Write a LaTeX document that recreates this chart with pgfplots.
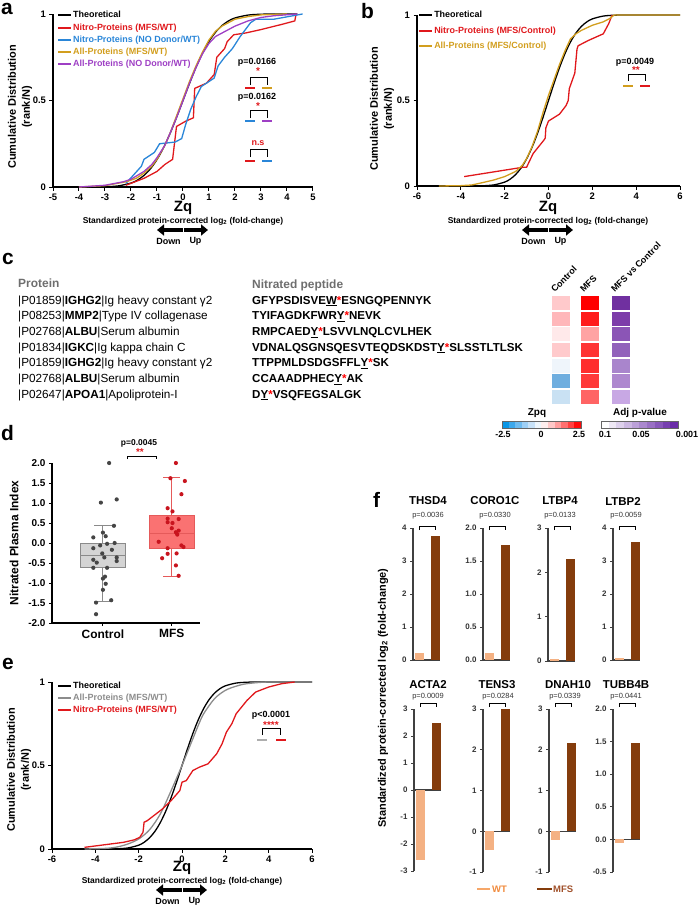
\documentclass[border=0pt]{standalone}
\usepackage{fontspec}
\setmainfont{Liberation Sans}
\usepackage{pgfplots}
\pgfplotsset{compat=1.18}
\usepgfplotslibrary{statistics}
\usetikzlibrary{arrows.meta}
\newcommand{\fs}[1]{\fontsize{#1}{#1}\selectfont}
\newcommand{\fss}[2]{\fontsize{#1}{#2}\selectfont}
\newcommand{\rs}{\textcolor{red}{*}}
\definecolor{cRed}{HTML}{E0181C}
\definecolor{cBlue}{HTML}{2A86D8}
\definecolor{cGold}{HTML}{D29E1E}
\definecolor{cPurple}{HTML}{9E3FC4}
\definecolor{cGray}{HTML}{8C8C8C}
\definecolor{boxG}{HTML}{D4D4D4}
\definecolor{boxGd}{HTML}{8A8A8A}
\definecolor{ptG}{HTML}{454545}
\definecolor{boxR}{HTML}{FA7272}
\definecolor{boxRd}{HTML}{E55A5A}
\definecolor{ptR}{HTML}{C8141E}
\definecolor{wtC}{HTML}{F4B183}
\definecolor{mfsC}{HTML}{843C0C}
\definecolor{wtT}{HTML}{F08A3C}
\definecolor{mfsT}{HTML}{A0502A}
\definecolor{hdr}{HTML}{6E6E6E}
% heatmap colours
\definecolor{hC1}{HTML}{FFC9CB}\definecolor{hC2}{HTML}{FFB7BA}\definecolor{hC3}{HTML}{FFE9EA}
\definecolor{hC4}{HTML}{FFCACC}\definecolor{hC5}{HTML}{EFF5FB}\definecolor{hC6}{HTML}{6FAEDF}
\definecolor{hC7}{HTML}{C9E1F3}
\definecolor{hM1}{HTML}{FF0000}\definecolor{hM2}{HTML}{FF1C1C}\definecolor{hM3}{HTML}{FFA3A3}
\definecolor{hM4}{HTML}{FF3333}\definecolor{hM5}{HTML}{FF2E2E}\definecolor{hM6}{HTML}{FF3A3A}
\definecolor{hM7}{HTML}{FF6464}
\definecolor{hP1}{HTML}{7030A0}\definecolor{hP2}{HTML}{7D3DAA}\definecolor{hP3}{HTML}{8B55B6}
\definecolor{hP4}{HTML}{9262BB}\definecolor{hP5}{HTML}{A985CC}\definecolor{hP6}{HTML}{AE88CF}
\definecolor{hP7}{HTML}{C8A8E4}
\definecolor{z1}{HTML}{0A96E6}\definecolor{z2}{HTML}{3CA8EC}\definecolor{z3}{HTML}{6EBBF0}
\definecolor{z4}{HTML}{9ECFF5}\definecolor{z5}{HTML}{C8E2F8}\definecolor{z6}{HTML}{EEF6FC}
\definecolor{z7}{HTML}{FFEEEE}\definecolor{z8}{HTML}{FFC8C8}\definecolor{z9}{HTML}{FF9E9E}
\definecolor{z10}{HTML}{FF7070}\definecolor{z11}{HTML}{FF4040}\definecolor{z12}{HTML}{FF0A0A}
\definecolor{p1}{HTML}{FFFFFF}\definecolor{p2}{HTML}{EEE8F5}\definecolor{p3}{HTML}{DDD0EC}
\definecolor{p4}{HTML}{CCB8E2}\definecolor{p5}{HTML}{BBA0D8}\definecolor{p6}{HTML}{AA88CE}
\definecolor{p7}{HTML}{9970C4}\definecolor{p8}{HTML}{8858BA}\definecolor{p9}{HTML}{7740B0}
\definecolor{p10}{HTML}{6A2CA8}
\pgfdeclareplotmark{hmcell}{\pgfpathrectangle{\pgfqpoint{-9bp}{-7bp}}{\pgfqpoint{18bp}{14bp}}\pgfusepathqfill}
\pgfdeclareplotmark{cbz}{\pgfpathrectangle{\pgfqpoint{-3.35bp}{-3.5bp}}{\pgfqpoint{6.7bp}{7bp}}\pgfusepathqfill}
\pgfdeclareplotmark{cbp}{\pgfpathrectangle{\pgfqpoint{-3.9bp}{-3.5bp}}{\pgfqpoint{7.8bp}{7bp}}\pgfusepathqfill}
\pgfdeclareplotmark{dot}{\pgfpathcircle{\pgfqpoint{0bp}{0bp}}{2.1bp}\pgfusepathqfill}
\tikzset{plet/.style={anchor=base west, inner sep=0, font=\fs{21}\bfseries, text height=11bp, text depth=0bp}}
\pgfplotsset{
 cdf/.style={scale only axis, anchor=south west, axis lines=left,
  axis line style={-, line width=1.3bp}, every tick/.style={black, line width=1bp},
  tick align=outside, major tick length=3.5bp, enlargelimits=false,
  ymin=0, ymax=1, ytick={0,0.5,1}, yticklabels={0,0.5,1},
  tick label style={font=\fs{9.5}\bfseries}, no markers, clip=false,
  legend style={draw=none, fill=none, font=\fs{9}\bfseries, inner sep=0pt, row sep=1.3bp,
   nodes={inner sep=1bp, text height=7bp, text depth=2bp}},
  legend cell align=left,
  legend image code/.code={\draw[##1, line width=2bp] (0bp,0bp) -- (13bp,0bp);},
  every axis plot/.append style={line width=1.3bp}},
 fb/.style={scale only axis, anchor=south west, width=27bp, xmin=0.6, xmax=2.3,
  axis y line=left, axis x line=middle, axis line style={-, line width=1.1bp, color=black!75},
  xtick=\empty, enlargelimits=false, tick align=outside,
  every tick/.style={black!75, line width=0.9bp}, major tick length=3bp,
  y tick label style={font=\fs{8}\bfseries, text=black!80},
  hide obscured x ticks=false, hide obscured y ticks=false, clip=false},
}
\begin{document}
\begin{tikzpicture}
\useasboundingbox (0bp,0bp) rectangle (700bp,-910bp);
% ---------------- panel a ----------------
\begin{axis}[cdf, at={(53bp,-187bp)}, width=260bp, height=173bp, xmin=-5, xmax=5,
 xtick={-5,-4,-3,-2,-1,0,1,2,3,4,5}, xticklabels={-5,-4,-3,-2,-1,0,1,2,3,4,5},
 legend style={at={(0.015,1.026)}, anchor=north west}]
\addplot[black, smooth] coordinates {(-3,0.0013)(-2.5,0.0062)(-2,0.0228)(-1.75,0.0401)(-1.5,0.0668)(-1.25,0.1056)(-1,0.1587)(-0.75,0.2266)(-0.5,0.3085)(-0.25,0.4013)(0,0.5)(0.25,0.5987)(0.5,0.6915)(0.75,0.7734)(1,0.8413)(1.25,0.8944)(1.5,0.9332)(1.75,0.9599)(2,0.9772)(2.5,0.9938)(3,0.9987)(3.5,1)(4.4,1)};
\addlegendentry{Theoretical}
\addplot[cRed] coordinates {(-2.2,0.01)(-1.5,0.05)(-1.0,0.09)(-0.7,0.13)(-0.4,0.16)(-0.25,0.35)(0.1,0.38)(0.4,0.40)(0.45,0.57)(0.9,0.60)(1.2,0.65)(1.3,0.75)(1.6,0.80)(1.7,0.84)(1.95,0.88)(2.4,0.89)(3.0,0.91)(3.8,0.94)(4.3,0.96)(4.35,1.0)};
\addlegendentry{\textcolor{cRed}{Nitro-Proteins (MFS/WT)}}
\addplot[cBlue] coordinates {(-2.2,0.02)(-1.9,0.07)(-1.6,0.12)(-1.5,0.16)(-1.1,0.20)(-0.9,0.25)(-0.3,0.26)(-0.05,0.28)(0.1,0.36)(0.3,0.45)(0.5,0.52)(0.7,0.58)(1.2,0.63)(1.35,0.70)(1.6,0.75)(1.9,0.80)(2.2,0.87)(2.6,0.95)(2.8,0.97)(3.5,0.97)(4.6,1.0)};
\addlegendentry{\textcolor{cBlue}{Nitro-Proteins (NO Donor/WT)}}
\addplot[cGold] coordinates {(-4,0)(-3,0.008)(-2.2,0.03)(-1.8,0.05)(-1.5,0.08)(-1.2,0.12)(-1,0.16)(-0.7,0.24)(-0.5,0.31)(-0.25,0.41)(0,0.51)(0.25,0.61)(0.5,0.70)(0.75,0.78)(1,0.85)(1.25,0.90)(1.5,0.93)(2,0.97)(2.5,0.985)(3,0.995)(4,1)};
\addlegendentry{\textcolor{cGold}{All-Proteins (MFS/WT)}}
\addplot[cPurple] coordinates {(-4,0)(-3,0.01)(-2.3,0.03)(-2,0.045)(-1.5,0.09)(-1.2,0.13)(-1,0.17)(-0.7,0.24)(-0.5,0.31)(-0.25,0.40)(0,0.50)(0.25,0.60)(0.5,0.69)(0.75,0.77)(1,0.83)(1.25,0.87)(1.5,0.89)(2,0.93)(2.5,0.96)(3,0.98)(3.5,0.99)(4.4,1)};
\addlegendentry{\textcolor{cPurple}{All-Proteins (NO Donor/WT)}}
\end{axis}
% ---------------- panel b ----------------
\begin{axis}[cdf, at={(417bp,-186bp)}, width=263bp, height=171bp, xmin=-6, xmax=6,
 xtick={-6,-4,-2,0,2,4,6}, xticklabels={-6,-4,-2,0,2,4,6},
 legend style={at={(0.004,1.032)}, anchor=north west, row sep=4.3bp}]
\addplot[black, smooth] coordinates {(-3,0.0013)(-2.5,0.0062)(-2,0.0228)(-1.75,0.0401)(-1.5,0.0668)(-1.25,0.1056)(-1,0.1587)(-0.75,0.2266)(-0.5,0.3085)(-0.25,0.4013)(0,0.5)(0.25,0.5987)(0.5,0.6915)(0.75,0.7734)(1,0.8413)(1.25,0.8944)(1.5,0.9332)(1.75,0.9599)(2,0.9772)(2.5,0.9938)(3,0.9987)(3.5,1)(6,1)};
\addlegendentry{Theoretical}
\addplot[cRed] coordinates {(-3.85,0.055)(-1.15,0.11)(-1.0,0.11)(-0.7,0.19)(-0.2,0.27)(-0.15,0.28)(-0.12,0.34)(0,0.38)(0.5,0.42)(0.8,0.47)(0.9,0.50)(0.95,0.57)(1.2,0.66)(1.3,0.80)(1.35,0.82)(1.8,0.85)(2.5,0.89)(2.75,0.95)(2.9,1.0)};
\addlegendentry{\textcolor{cRed}{Nitro-Proteins (MFS/Control)}}
\addplot[cGold] coordinates {(-5,0)(-4,0.002)(-3.5,0.006)(-3,0.02)(-2.5,0.035)(-2,0.055)(-1.5,0.085)(-1.2,0.12)(-1,0.16)(-0.75,0.23)(-0.5,0.32)(-0.25,0.43)(0,0.53)(0.25,0.62)(0.5,0.71)(0.75,0.79)(1,0.86)(1.25,0.89)(1.5,0.91)(2,0.94)(2.5,0.96)(2.8,0.98)(3,1)(6,1)};
\addlegendentry{\textcolor{cGold}{All-Proteins (MFS/Control)}}
\end{axis}
% ---------------- panel e ----------------
\begin{axis}[cdf, at={(52bp,-849bp)}, width=260bp, height=167bp, xmin=-6, xmax=6,
 xtick={-6,-4,-2,0,2,4,6}, xticklabels={-6,-4,-2,0,2,4,6},
 legend style={at={(0.019,1.012)}, anchor=north west, row sep=1bp}]
\addplot[black, smooth] coordinates {(-3,0.0013)(-2.5,0.0062)(-2,0.0228)(-1.75,0.0401)(-1.5,0.0668)(-1.25,0.1056)(-1,0.1587)(-0.75,0.2266)(-0.5,0.3085)(-0.25,0.4013)(0,0.5)(0.25,0.5987)(0.5,0.6915)(0.75,0.7734)(1,0.8413)(1.25,0.8944)(1.5,0.9332)(1.75,0.9599)(2,0.9772)(2.5,0.9938)(3,0.9987)(3.5,1)(6,1)};
\addlegendentry{Theoretical}
\addplot[cGray, smooth] coordinates {(-4.5,0)(-3.5,0.004)(-3,0.012)(-2.5,0.03)(-2,0.06)(-1.5,0.115)(-1,0.21)(-0.5,0.35)(0,0.5)(0.25,0.58)(0.5,0.66)(0.75,0.74)(1,0.81)(1.5,0.9)(2,0.95)(2.5,0.975)(3,0.99)(4,1)(6,1)};
\addlegendentry{\textcolor{cGray}{All-Proteins (MFS/WT)}}
\addplot[cRed] coordinates {(-4.5,0.01)(-2.7,0.04)(-2.2,0.055)(-1.95,0.07)(-1.8,0.1)(-1.75,0.16)(-1.6,0.17)(-1.3,0.2)(-0.9,0.24)(-0.5,0.29)(-0.1,0.35)(0,0.4)(0.2,0.41)(0.5,0.47)(0.8,0.49)(1.2,0.51)(1.6,0.57)(1.85,0.63)(2.05,0.70)(2.3,0.75)(2.5,0.81)(3.0,0.89)(3.4,0.94)(4.0,0.97)(4.6,0.99)(5.2,1.0)};
\addlegendentry{\textcolor{cRed}{Nitro-Proteins (MFS/WT)}}
\end{axis}
% ---------------- panel d ----------------
\begin{axis}[at={(52bp,-623bp)}, anchor=south west, scale only axis, width=148bp, height=160bp,
 xmin=0.26, xmax=2.41, ymin=-2, ymax=2, axis lines=left, axis line style={-, line width=1.3bp},
 enlargelimits=false, xtick={1,2}, xticklabels={Control,MFS}, x tick label style={font=\fs{12}\bfseries},
 ytick={-2,-1.5,-1,-0.5,0,0.5,1,1.5,2}, yticklabels={-2.0,-1.5,-1.0,-0.5,0.0,0.5,1.0,1.5,2.0},
 y tick label style={font=\fs{10}\bfseries}, tick align=outside,
 every tick/.style={black, line width=1bp}, major tick length=3bp, clip=false,
 boxplot/draw direction=y]
\addplot[boxplot prepared={draw position=1, lower whisker=-1.47, lower quartile=-0.62, median=-0.30,
 upper quartile=0.0, upper whisker=0.45, box extend=0.65, whisker extend=0.25},
 draw=boxGd, fill=boxG, line width=0.9bp] coordinates {};
\addplot[boxplot prepared={draw position=2, lower whisker=-0.83, lower quartile=-0.14, median=0.25,
 upper quartile=0.69, upper whisker=1.63, box extend=0.65, whisker extend=0.25},
 draw=boxRd, fill=boxR, line width=0.9bp] coordinates {};
\addplot[only marks, mark=dot, ptG] coordinates {(1.09,2.0)(0.97,1.01)(1.2,1.09)(1.16,0.43)(1.0,0.26)(0.86,0.14)(1.04,0.17)(1.17,0.0)(1.06,-0.02)(0.96,-0.06)(0.86,-0.13)(1.13,-0.17)(0.99,-0.26)(1.2,-0.36)(1.02,-0.36)(0.86,-0.42)(0.91,-0.49)(1.2,-0.45)(0.86,-0.62)(1.06,-0.62)(1.03,-0.84)(1.0,-0.89)(1.04,-1.02)(1.0,-1.17)(1.12,-1.43)(0.9,-1.49)(0.9,-1.78)};
\addplot[only marks, mark=dot, ptR] coordinates {(2.06,2.0)(1.98,1.62)(2.19,1.55)(2.14,1.22)(1.94,0.87)(2.01,0.79)(1.94,0.61)(2.1,0.6)(1.94,0.52)(2.01,0.5)(2.0,0.37)(2.1,0.31)(2.06,0.27)(2.08,0.21)(1.81,0.03)(2.14,-0.06)(2.17,-0.1)(1.94,-0.13)(2.07,-0.26)(1.94,-0.27)(1.86,-0.38)(2.06,-0.56)(2.1,-0.82)};
\end{axis}
% ---------------- panel c heatmap ----------------
\begin{axis}[at={(495bp,-285bp)}, anchor=north west, x=1bp, y=1bp, y dir=reverse,
 xmin=495, xmax=700, ymin=285, ymax=440, hide axis, clip=false]
\addplot[scatter, only marks, mark=hmcell, point meta=explicit symbolic,
 scatter/classes={hC1={color=hC1,fill=hC1},hC2={color=hC2,fill=hC2},hC3={color=hC3,fill=hC3},hC4={color=hC4,fill=hC4},hC5={color=hC5,fill=hC5},hC6={color=hC6,fill=hC6},hC7={color=hC7,fill=hC7},
 hM1={color=hM1,fill=hM1},hM2={color=hM2,fill=hM2},hM3={color=hM3,fill=hM3},hM4={color=hM4,fill=hM4},hM5={color=hM5,fill=hM5},hM6={color=hM6,fill=hM6},hM7={color=hM7,fill=hM7},
 hP1={color=hP1,fill=hP1},hP2={color=hP2,fill=hP2},hP3={color=hP3,fill=hP3},hP4={color=hP4,fill=hP4},hP5={color=hP5,fill=hP5},hP6={color=hP6,fill=hP6},hP7={color=hP7,fill=hP7}}]
 table[meta=c] {
x y c
561 303 hC1
561 318.6 hC2
561 334.3 hC3
561 350 hC4
561 365.6 hC5
561 381.3 hC6
561 397 hC7
590 303 hM1
590 318.6 hM2
590 334.3 hM3
590 350 hM4
590 365.6 hM5
590 381.3 hM6
590 397 hM7
621 303 hP1
621 318.6 hP2
621 334.3 hP3
621 350 hP4
621 365.6 hP5
621 381.3 hP6
621 397 hP7
};
\addplot[scatter, only marks, mark=cbz, point meta=explicit symbolic,
 scatter/classes={z1={color=z1,fill=z1},z2={color=z2,fill=z2},z3={color=z3,fill=z3},z4={color=z4,fill=z4},z5={color=z5,fill=z5},z6={color=z6,fill=z6},z7={color=z7,fill=z7},z8={color=z8,fill=z8},z9={color=z9,fill=z9},z10={color=z10,fill=z10},z11={color=z11,fill=z11},z12={color=z12,fill=z12}}]
 table[meta=c] {
x y c
505.3 424.5 z1
511.9 424.5 z2
518.5 424.5 z3
525.1 424.5 z4
531.7 424.5 z5
538.2 424.5 z6
544.8 424.5 z7
551.4 424.5 z8
558.0 424.5 z9
564.6 424.5 z10
571.2 424.5 z11
577.7 424.5 z12
};
\addplot[scatter, only marks, mark=cbp, point meta=explicit symbolic,
 scatter/classes={p1={color=p1,fill=p1},p2={color=p2,fill=p2},p3={color=p3,fill=p3},p4={color=p4,fill=p4},p5={color=p5,fill=p5},p6={color=p6,fill=p6},p7={color=p7,fill=p7},p8={color=p8,fill=p8},p9={color=p9,fill=p9},p10={color=p10,fill=p10}}]
 table[meta=c] {
x y c
604.85 424.5 p1
612.55 424.5 p2
620.25 424.5 p3
627.95 424.5 p4
635.65 424.5 p5
643.35 424.5 p6
651.05 424.5 p7
658.75 424.5 p8
666.45 424.5 p9
674.15 424.5 p10
};
\end{axis}
% ---------------- panel f ----------------
\begin{axis}[fb, at={(413bp,-660bp)}, height=132bp, ymin=0, ymax=4, ytick={0,1,2,3,4}, yticklabels={0,1,2,3,4}]
\addplot[ybar, bar width=9bp, bar shift=0pt, fill=wtC, draw=none] coordinates {(1,0.22)};
\addplot[ybar, bar width=9bp, bar shift=0pt, fill=mfsC, draw=none] coordinates {(2,3.76)};
\end{axis}
\begin{axis}[fb, at={(483bp,-660bp)}, height=132bp, ymin=0, ymax=2, ytick={0,0.5,1,1.5,2}, yticklabels={0.0,0.5,1.0,1.5,2.0}]
\addplot[ybar, bar width=9bp, bar shift=0pt, fill=wtC, draw=none] coordinates {(1,0.11)};
\addplot[ybar, bar width=9bp, bar shift=0pt, fill=mfsC, draw=none] coordinates {(2,1.74)};
\end{axis}
\begin{axis}[fb, at={(548bp,-661bp)}, height=133bp, ymin=0, ymax=3, ytick={0,1,2,3}, yticklabels={0,1,2,3}]
\addplot[ybar, bar width=9bp, bar shift=0pt, fill=wtC, draw=none] coordinates {(1,0.05)};
\addplot[ybar, bar width=9bp, bar shift=0pt, fill=mfsC, draw=none] coordinates {(2,2.29)};
\end{axis}
\begin{axis}[fb, at={(613bp,-660bp)}, height=132bp, ymin=0, ymax=4, ytick={0,1,2,3,4}, yticklabels={0,1,2,3,4}]
\addplot[ybar, bar width=9bp, bar shift=0pt, fill=wtC, draw=none] coordinates {(1,0.07)};
\addplot[ybar, bar width=9bp, bar shift=0pt, fill=mfsC, draw=none] coordinates {(2,3.57)};
\end{axis}
\begin{axis}[fb, at={(414bp,-871bp)}, height=162bp, ymin=-3, ymax=3, ytick={-3,-2,-1,0,1,2,3}, yticklabels={-3,-2,-1,0,1,2,3}]
\addplot[ybar, bar width=9bp, bar shift=0pt, fill=wtC, draw=none] coordinates {(1,-2.6)};
\addplot[ybar, bar width=9bp, bar shift=0pt, fill=mfsC, draw=none] coordinates {(2,2.47)};
\end{axis}
\begin{axis}[fb, at={(483bp,-872bp)}, height=163bp, ymin=-1, ymax=3, ytick={-1,0,1,2,3}, yticklabels={-1,0,1,2,3}]
\addplot[ybar, bar width=9bp, bar shift=0pt, fill=wtC, draw=none] coordinates {(1,-0.47)};
\addplot[ybar, bar width=9bp, bar shift=0pt, fill=mfsC, draw=none] coordinates {(2,3.0)};
\end{axis}
\begin{axis}[fb, at={(549bp,-872bp)}, height=163bp, ymin=-1, ymax=3, ytick={-1,0,1,2,3}, yticklabels={-1,0,1,2,3}]
\addplot[ybar, bar width=9bp, bar shift=0pt, fill=wtC, draw=none] coordinates {(1,-0.22)};
\addplot[ybar, bar width=9bp, bar shift=0pt, fill=mfsC, draw=none] coordinates {(2,2.17)};
\end{axis}
\begin{axis}[fb, at={(613bp,-872bp)}, height=163bp, ymin=-0.5, ymax=2, ytick={-0.5,0,0.5,1,1.5,2}, yticklabels={-0.5,0.0,0.5,1.0,1.5,2.0}]
\addplot[ybar, bar width=9bp, bar shift=0pt, fill=wtC, draw=none] coordinates {(1,-0.05)};
\addplot[ybar, bar width=9bp, bar shift=0pt, fill=mfsC, draw=none] coordinates {(2,1.48)};
\end{axis}
% ---------------- annotations ----------------
\begin{scope}[x=1bp, y=-1bp]
% panel letters
\node[plet] at (1,14) {a};
\node[plet, text height=15bp] at (361,18) {b};
\node[plet] at (2,264) {c};
\node[plet, text height=15bp] at (1,440) {d};
\node[plet] at (2,669) {e};
\node[plet, text height=15bp] at (373,507) {f};
% axis titles a,b,e
\node[rotate=90, align=center, font=\fss{11}{14}\bfseries] at (20,107) {Cumulative Distribution\\(rank/N)};
\node[rotate=90, align=center, font=\fss{11}{14}\bfseries] at (382,109) {Cumulative Distribution\\(rank/N)};
\node[rotate=90, align=center, font=\fss{11}{14}\bfseries] at (19,770) {Cumulative Distribution\\(rank/N)};
\foreach \cx/\zy in {183/208, 548/208, 182/868} {
 \node[font=\fs{15}\bfseries] at (\cx,\zy) {Zq};
 \node[font=\fs{8.5}\bfseries] at (\cx,\zy+13) {Standardized protein-corrected log\textsubscript{2} (fold-change)};
 \draw[line width=4.5bp, -{Triangle[length=7bp,width=11bp]}] (\cx-0.5,\zy+22) -- (\cx-26,\zy+22);
 \draw[line width=4.5bp, -{Triangle[length=7bp,width=11bp]}] (\cx+1,\zy+22) -- (\cx+25,\zy+22);
 \node[font=\fs{9}\bfseries] at (\cx-14.5,\zy+33) {Down};
 \node[font=\fs{9}\bfseries] at (\cx+12.5,\zy+33) {Up};
}
% significance a
\node[font=\fs{9}\bfseries] at (257,62) {p=0.0166};
\node[font=\fs{10}\bfseries, text=cRed] at (258,71) {*};
\draw[line width=1bp] (250,85) -- (250,77) -- (267,77) -- (267,85);
\draw[cRed, line width=2.2bp] (245,88) -- (255,88); \draw[cGold, line width=2.2bp] (262,88) -- (272,88);
\node[font=\fs{9}\bfseries] at (257,97) {p=0.0162};
\node[font=\fs{10}\bfseries, text=cRed] at (258,106) {*};
\draw[line width=1bp] (250,118) -- (250,110) -- (267,110) -- (267,118);
\draw[cBlue, line width=2.2bp] (245,121) -- (255,121); \draw[cPurple, line width=2.2bp] (262,121) -- (272,121);
\node[font=\fs{9}\bfseries, text=cRed] at (258,143) {n.s};
\draw[line width=1bp] (250,157) -- (250,149) -- (267,149) -- (267,157);
\draw[cRed, line width=2.2bp] (245,161) -- (255,161); \draw[cBlue, line width=2.2bp] (262,161) -- (272,161);
% significance b
\node[font=\fs{9}\bfseries] at (635,62) {p=0.0049};
\node[font=\fs{10}\bfseries, text=cRed] at (636,70) {**};
\draw[line width=1bp] (628,81) -- (628,74) -- (645,74) -- (645,81);
\draw[cGold, line width=2.2bp] (623,86) -- (633,86); \draw[cRed, line width=2.2bp] (640,86) -- (650,86);
% significance e
\node[font=\fs{9}\bfseries] at (271,715) {p<0.0001};
\node[font=\fs{10}\bfseries, text=cRed] at (271,725) {****};
\draw[line width=1bp] (262,735) -- (262,728) -- (280,728) -- (280,735);
\draw[cGray!70, line width=2.2bp] (257,740) -- (267,740); \draw[cRed, line width=2.2bp] (276,740) -- (286,740);
% panel d
\node[rotate=90, font=\fs{12}\bfseries] at (14,543) {Nitrated Plasma Index};
\node[font=\fs{8.5}\bfseries] at (139,443) {p=0.0045};
\node[font=\fs{10}\bfseries, text=cRed] at (140,452) {**};
\draw[line width=0.9bp] (127,459) -- (127,456) -- (156,456) -- (156,459);
% panel c text
\node[anchor=base west, inner sep=0, font=\fs{12}\bfseries, text=hdr] at (18,287) {Protein};
\node[anchor=base west, inner sep=0, font=\fs{12}\bfseries, text=hdr] at (252,288) {Nitrated peptide};
\foreach \i/\t in {0/{|P01859|\textbf{IGHG2}|Ig heavy constant γ2},
 1/{|P08253|\textbf{MMP2}|Type IV collagenase},
 2/{|P02768|\textbf{ALBU}|Serum albumin},
 3/{|P01834|\textbf{IGKC}|Ig kappa chain C},
 4/{|P01859|\textbf{IGHG2}|Ig heavy constant γ2},
 5/{|P02768|\textbf{ALBU}|Serum albumin},
 6/{|P02647|\textbf{APOA1}|Apoliprotein-I}} {
 \node[anchor=base west, inner sep=0, font=\fs{11.8}] at (18,304+15.7*\i) {\t};
}
\foreach \i/\t in {0/{GFYPSDISVE\underline{W}\rs ESNGQPENNYK},
 1/{TYIFAGDKFWR\underline{Y}\rs NEVK},
 2/{RMPCAED\underline{Y}\rs LSVVLNQLCVLHEK},
 3/{VDNALQSGNSQESVTEQDSKDST\underline{Y}\rs SLSSTLTLSK},
 4/{TTPPMLDSDGSFFL\underline{Y}\rs SK},
 5/{CCAAADPHEC\underline{Y}\rs AK},
 6/{D\underline{Y}\rs VSQFEGSALGK}} {
 \node[anchor=base west, inner sep=0, font=\fs{11.6}\bfseries] at (252,304+15.7*\i) {\t};
}
\node[rotate=45, anchor=south west, inner sep=0, font=\fs{9}\bfseries] at (555,293) {Control};
\node[rotate=45, anchor=south west, inner sep=0, font=\fs{9}\bfseries] at (584,293) {MFS};
\node[rotate=45, anchor=south west, inner sep=0, font=\fs{9}\bfseries] at (615,293) {MFS vs Control};
\node[font=\fs{10}\bfseries] at (537,413) {Zpq};
\draw[black!60, line width=0.6bp] (502,421) rectangle (581,428);
\node[font=\fs{9}\bfseries] at (503,434) {-2.5};
\node[font=\fs{9}\bfseries] at (541,434) {0};
\node[font=\fs{9}\bfseries] at (579,434) {2.5};
\node[font=\fs{10}\bfseries] at (640,413) {Adj p-value};
\draw[black!60, line width=0.6bp] (601,421) rectangle (678,428);
\node[font=\fs{9}\bfseries] at (605,434) {0.1};
\node[font=\fs{9}\bfseries] at (641,434) {0.05};
\node[font=\fs{9}\bfseries] at (687,434) {0.001};
% panel f text
\node[rotate=90, font=\fs{11}\bfseries] at (383,698) {Standardized protein-corrected log\textsubscript{2} (fold-change)};
\foreach \L/\g/\p/\tx/\px in {413/THSD4/0.0036/428/428, 483/CORO1C/0.0330/495/495, 548/LTBP4/0.0133/560/560, 613/LTBP2/0.0059/623/626} {
 \node[font=\fs{11.5}\bfseries] at (\tx,501) {\g};
 \node[font=\fs{7.5}, text=black!80] at (\px,516) {p=\p};
 \draw[line width=0.9bp] (\L+6.4,530) -- (\L+6.4,526) -- (\L+22.2,526) -- (\L+22.2,530);
}
\foreach \L/\g/\p/\tx/\px in {414/ACTA2/0.0009/428/428, 483/TENS3/0.0284/497/498, 549/DNAH10/0.0339/568/565, 613/TUBB4B/0.0441/626/626} {
 \node[font=\fs{11.5}\bfseries] at (\tx,685) {\g};
 \node[font=\fs{7.5}, text=black!80] at (\px,697) {p=\p};
 \draw[line width=0.9bp] (\L+6.4,707) -- (\L+6.4,703) -- (\L+22.2,703) -- (\L+22.2,707);
}
\draw[wtC!80!orange, line width=2bp] (477,889) -- (490,889);
\node[anchor=west, inner sep=0, font=\fs{9.5}\bfseries, text=wtT] at (492,889) {WT};
\draw[mfsC, line width=2bp] (537,889) -- (552,889);
\node[anchor=west, inner sep=0, font=\fs{9.5}\bfseries, text=mfsT] at (553,889) {MFS};
\end{scope}
\end{tikzpicture}
\end{document}
